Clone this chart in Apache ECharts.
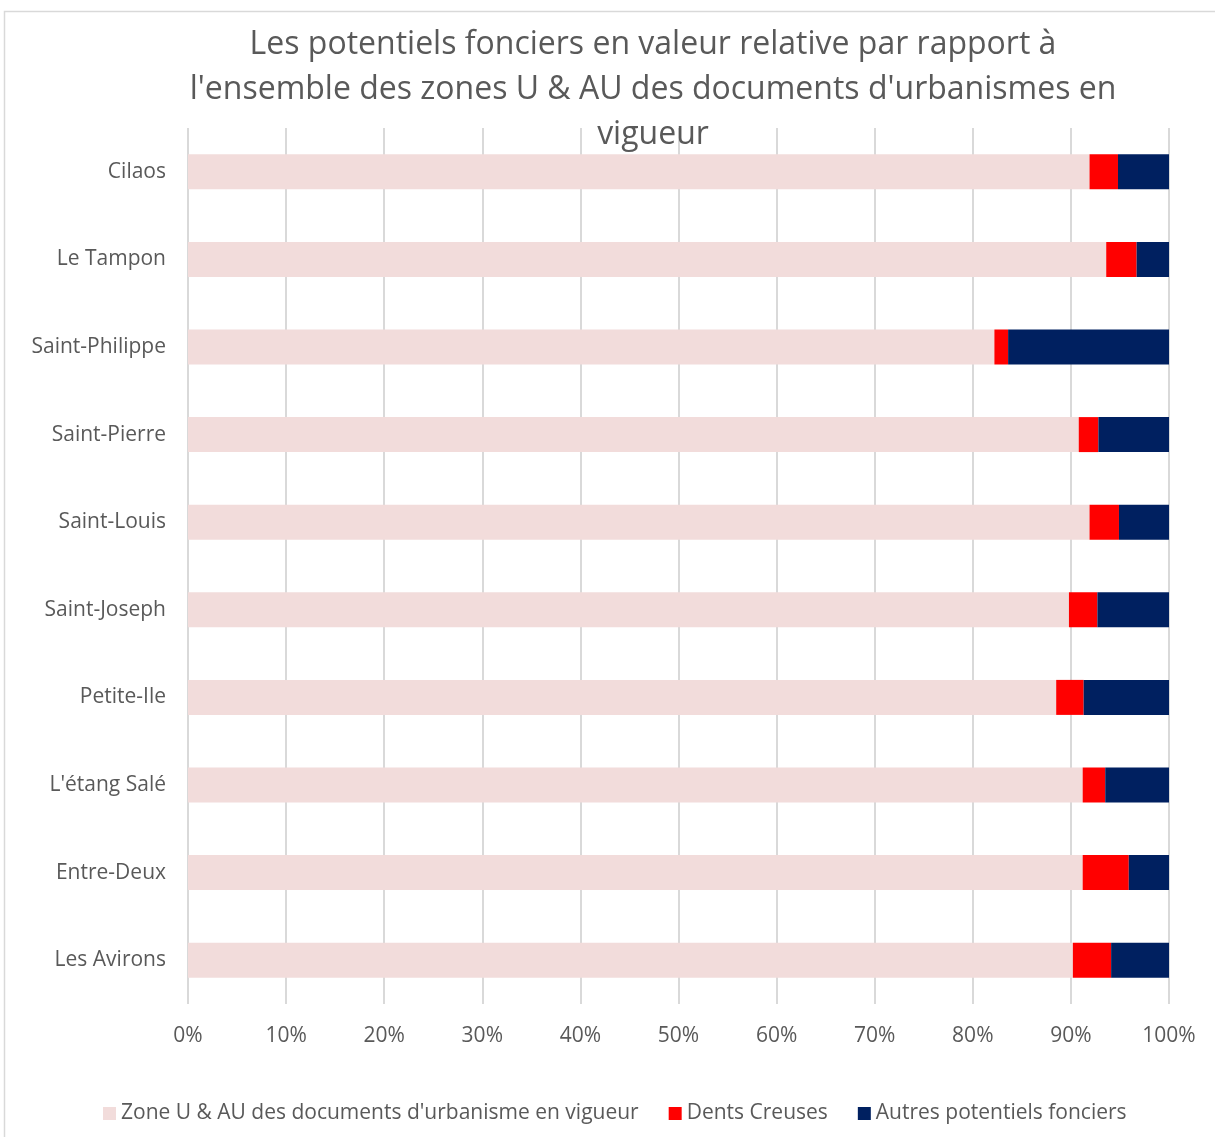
<!DOCTYPE html>
<html>
<head>
<meta charset="utf-8">
<script src="https://cdn.jsdelivr.net/npm/echarts@6/dist/echarts.min.js"></script>
<style>
  html, body { margin: 0; padding: 0; background: #ffffff; }
  #chart { width: 1215px; height: 1137px; }
</style>
</head>
<body>
<div id="chart"></div>
<script>
// Communes (top to bottom)
const communes = ['Cilaos', 'Le Tampon', 'Saint-Philippe', 'Saint-Pierre', 'Saint-Louis',
  'Saint-Joseph', 'Petite-Ile', "L'étang Salé", 'Entre-Deux', 'Les Avirons'];

// Shares in percent of the U & AU zones
const zoneUAU = [91.9, 93.6, 82.2, 90.8, 91.9, 89.8, 88.5, 91.2, 91.2, 90.2];
const dentsCreuses = [2.9, 3.1, 1.4, 2.0, 3.0, 2.9, 2.8, 2.3, 4.7, 3.9];
const autresPotentiels = [5.2, 3.3, 16.4, 7.2, 5.1, 7.3, 8.7, 6.5, 4.1, 5.9];

const seriesNames = ["Zone U & AU des documents d'urbanisme en vigueur", 'Dents Creuses', 'Autres potentiels fonciers'];

const FONT = '"Open Sans", sans-serif';
const TXT = '#595959';

const chart = echarts.init(document.getElementById('chart'));

function barSeries(name, data, color) {
  return {
    name: name,
    type: 'bar',
    stack: 'total',
    barWidth: 35,
    data: data,
    itemStyle: { color: color },
    emphasis: { disabled: true }
  };
}

chart.setOption({
  animation: false,
  backgroundColor: '#ffffff',
  title: {
    text: "Les potentiels fonciers en valeur relative par rapport à\nl'ensemble des zones U & AU des documents d'urbanismes en\nvigueur",
    left: 648,
    top: 17,
    textAlign: 'center',
    textStyle: { fontFamily: FONT, fontSize: 32, fontWeight: 'normal', color: TXT, lineHeight: 45 }
  },
  graphic: [{
    type: 'rect',
    shape: { x: 4.5, y: 11.5, width: 1300, height: 1300 },
    style: { fill: 'none', stroke: '#d9d9d9', lineWidth: 1.5 },
    silent: true,
    z: -10
  }],
  legend: {
    left: 98,
    top: 1098,
    icon: 'rect',
    itemWidth: 13,
    itemHeight: 13,
    itemGap: 30,
    textStyle: { fontFamily: FONT, fontSize: 21, color: TXT },
    data: seriesNames
  },
  grid: { left: 188, right: 46, top: 128, bottom: 133 },
  xAxis: {
    type: 'value',
    min: 0,
    max: 100,
    interval: 10,
    axisLine: { show: false },
    axisTick: { show: false },
    splitLine: { show: true, lineStyle: { color: '#d9d9d9', width: 2 } },
    axisLabel: { formatter: '{value}%', fontFamily: FONT, fontSize: 21, color: TXT, margin: 22 }
  },
  yAxis: {
    type: 'category',
    inverse: true,
    data: communes,
    axisLine: { show: false },
    axisTick: { show: false },
    axisLabel: { fontFamily: FONT, fontSize: 21, color: TXT, margin: 22 }
  },
  series: [
    barSeries(seriesNames[0], zoneUAU, '#f2dcdb'),
    barSeries(seriesNames[1], dentsCreuses, '#ff0000'),
    barSeries(seriesNames[2], autresPotentiels, '#002060')
  ]
});
</script>
</body>
</html>
